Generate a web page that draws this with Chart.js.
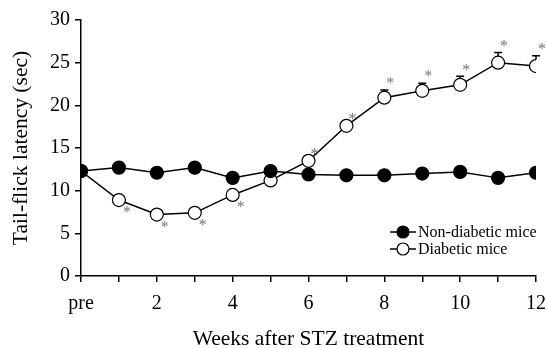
<!DOCTYPE html>
<html>
<head>
<meta charset="utf-8">
<script src="https://cdn.jsdelivr.net/npm/chart.js@4"></script>
<style>
  html, body { margin: 0; padding: 0; background: #fff; }
  #wrap { width: 547px; height: 348px; }
</style>
</head>
<body>
<div id="wrap"><canvas id="latencyChart" width="547" height="348"></canvas></div>
<script>
// weeks after STZ treatment (0 = pre)
const weeks = [0, 1, 2, 3, 4, 5, 6, 7, 8, 9, 10, 11, 12];
const nonDiabetic = [12.3, 12.7, 12.1, 12.7, 11.5, 12.3, 11.9, 11.8, 11.8, 12.0, 12.2, 11.5, 12.1];
const diabetic = [12.3, 8.9, 7.2, 7.4, 9.5, 11.2, 13.5, 17.6, 20.9, 21.7, 22.4, 25.0, 24.6];
const diabeticErr = [0, 0, 0, 0, 0, 0, 0, 0, 0.9, 0.9, 1.0, 1.2, 1.2];
const significant = [false, true, true, true, true, false, true, true, true, true, true, true, true];
const xTickLabels = { 0: "pre", 2: "2", 4: "4", 6: "6", 8: "8", 10: "10", 12: "12" };
const yTicks = [0, 5, 10, 15, 20, 25, 30];

const serif = "'Liberation Serif', 'DejaVu Serif', serif";

const toPoints = (vals) => weeks.map((w, i) => ({ x: w, y: vals[i] }));

// error bars (upper only), significance stars and the legend box
const extrasPlugin = {
    id: "extras",
    afterDatasetsDraw(chart) {
        const ctx = chart.ctx;
        const xs = chart.scales.x;
        const ys = chart.scales.y;
        ctx.save();
        ctx.strokeStyle = "#000";
        ctx.lineWidth = 1.5;
        weeks.forEach((w, i) => {
            if (!diabeticErr[i]) return;
            const px = xs.getPixelForValue(w);
            const top = ys.getPixelForValue(diabetic[i] + diabeticErr[i]);
            const mid = ys.getPixelForValue(diabetic[i]) - 6.5;
            ctx.beginPath();
            ctx.moveTo(px, mid);
            ctx.lineTo(px, top);
            ctx.moveTo(px - 4, top);
            ctx.lineTo(px + 4, top);
            ctx.stroke();
        });
        // stars
        ctx.fillStyle = "#777";
        ctx.font = "16px " + serif;
        ctx.textAlign = "center";
        ctx.textBaseline = "middle";
        weeks.forEach((w, i) => {
            if (!significant[i]) return;
            const px = xs.getPixelForValue(w);
            if (diabetic[i] < diabetic[0]) {
                const py = ys.getPixelForValue(diabetic[i]);
                ctx.fillText("*", px + 8, py + 13);
            } else {
                const py = ys.getPixelForValue(diabetic[i] + diabeticErr[i]);
                ctx.fillText("*", px + 6, py - 6);
            }
        });
        // legend
        const items = chart.data.datasets;
        ctx.font = "16px " + serif;
        ctx.textAlign = "left";
        items.forEach((ds, k) => {
            const ly = 232 + k * 17;
            ctx.strokeStyle = "#000";
            ctx.lineWidth = 1.5;
            ctx.beginPath();
            ctx.moveTo(390, ly);
            ctx.lineTo(416, ly);
            ctx.stroke();
            ctx.beginPath();
            ctx.arc(403, ly, 6, 0, Math.PI * 2);
            ctx.fillStyle = ds.pointBackgroundColor;
            ctx.fill();
            ctx.lineWidth = 1.2;
            ctx.stroke();
            ctx.fillStyle = "#000";
            ctx.fillText(ds.label, 418, ly + 1);
        });
        ctx.restore();
    },
};

new Chart(document.getElementById("latencyChart").getContext("2d"), {
    type: "line",
    data: {
        datasets: [
            {
                label: "Non-diabetic mice",
                data: toPoints(nonDiabetic),
                borderColor: "#000",
                borderWidth: 1.5,
                pointRadius: 6.5,
                pointBackgroundColor: "#000",
                pointBorderColor: "#000",
                pointBorderWidth: 1.2,
            },
            {
                label: "Diabetic mice",
                data: toPoints(diabetic),
                borderColor: "#000",
                borderWidth: 1.5,
                pointRadius: 6.5,
                pointBackgroundColor: "#fff",
                pointBorderColor: "#000",
                pointBorderWidth: 1.2,
            },
        ],
    },
    options: {
        responsive: false,
        animation: false,
        layout: { padding: { top: 20, right: 11, left: 0, bottom: 0 } },
        plugins: { legend: { display: false }, tooltip: { enabled: false } },
        scales: {
            x: {
                type: "linear",
                min: 0,
                max: 12,
                afterFit: (s) => {
                    s.height = 72;
                    s.paddingRight = 0;
                    s.paddingLeft = 0;
                },
                afterBuildTicks: (s) => { s.ticks = weeks.map((w) => ({ value: w })); },
                border: { color: "#000", width: 1.5 },
                grid: { drawOnChartArea: false, drawTicks: true, tickLength: 6, color: "#000", lineWidth: 1.5 },
                ticks: {
                    color: "#000",
                    font: { family: serif, size: 20 },
                    padding: 10,
                    maxRotation: 0,
                    autoSkip: false,
                    callback: (v) => xTickLabels[v] ?? "",
                },
                title: {
                    display: true,
                    text: "Weeks after STZ treatment",
                    color: "#000",
                    font: { family: serif, size: 21.5 },
                    padding: { top: 0, bottom: -4 },
                },
            },
            y: {
                min: 0,
                max: 30,
                afterFit: (s) => { s.width = 81; },
                afterBuildTicks: (s) => { s.ticks = yTicks.map((v) => ({ value: v })); },
                border: { color: "#000", width: 1.5 },
                grid: { drawOnChartArea: false, drawTicks: true, tickLength: 6, color: "#000", lineWidth: 1.5 },
                ticks: {
                    color: "#000",
                    font: { family: serif, size: 20 },
                    padding: 5,
                },
                title: {
                    display: true,
                    text: "Tail-flick latency (sec)",
                    color: "#000",
                    font: { family: serif, size: 21.5 },
                    padding: { top: 8, bottom: 0 },
                },
            },
        },
    },
    plugins: [extrasPlugin],
});
</script>
</body>
</html>
